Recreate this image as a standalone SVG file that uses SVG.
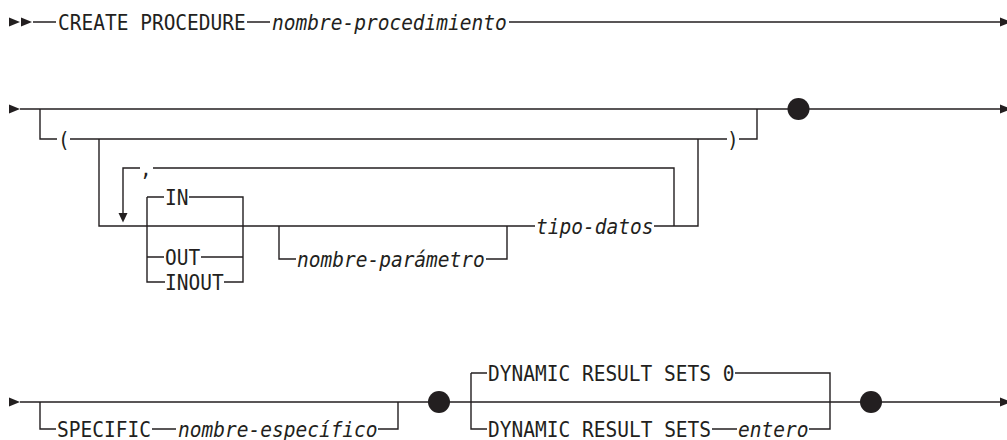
<svg xmlns="http://www.w3.org/2000/svg" width="1007" height="440" viewBox="0 0 1007 440">
<style>
text{font-family:"DejaVu Sans Mono","Liberation Mono",monospace;font-size:20.6px;fill:#231f20}
.i{font-style:italic}
.ln{fill:none;stroke:#231f20;stroke-width:1.4}
.ah{fill:#231f20}
.dot{fill:#231f20}
</style>
<defs>
<polygon id="ar" points="0,-4.5 0,4.5 11,0" class="ah"/>
</defs>
<rect width="1007" height="440" fill="#fff"/>
<g id="connectors">
<path class="ln" d="M33 22H56M247 22H270M509 22H1001"/>
<path class="ln" d="M20 109H1001M40 109V139H57M70 139H727M739 139H757V109M99 139V226H535M654 226H698V139M674 226V168H153M140 168H123V214M147 197V282H165M147 197H164M147 257H164M189 197H243V282H224M201 257H243M279 226V259H296M486 259H507V226"/>
<path class="ln" d="M20 402H1001M40 402V429H56M152 429H176M378 429H398V402M471 373V429H487M471 373H487M735 373H830V429H809M712 429H737"/>
<use href="#ar" x="9" y="22"/>
<use href="#ar" x="21" y="22"/>
<use href="#ar" x="1000" y="22"/>
<use href="#ar" x="9" y="109"/>
<use href="#ar" x="1000" y="109"/>
<use href="#ar" x="9" y="402"/>
<use href="#ar" x="1000" y="402"/>
<polygon class="ah" points="118.5,213 127.5,213 123,222.5"/>
</g>
<g id="create"><text x="58" y="29.5" textLength="187.8" lengthAdjust="spacingAndGlyphs">CREATE PROCEDURE</text></g>
<g id="nombre-procedimiento"><text class="i" x="272" y="29.5" textLength="234.8" lengthAdjust="spacingAndGlyphs">nombre-procedimiento</text></g>
<g id="lparen"><text x="58" y="146.5" textLength="11.7" lengthAdjust="spacingAndGlyphs">(</text></g>
<g id="rparen"><text x="727" y="146.5" textLength="11.7" lengthAdjust="spacingAndGlyphs">)</text></g>
<g id="comma"><text x="140" y="175.5" textLength="11.7" lengthAdjust="spacingAndGlyphs">,</text></g>
<g id="in"><text x="165" y="204.5" textLength="23.5" lengthAdjust="spacingAndGlyphs">IN</text></g>
<g id="out"><text x="165" y="264.5" textLength="35.2" lengthAdjust="spacingAndGlyphs">OUT</text></g>
<g id="inout"><text x="165" y="289.5" textLength="58.7" lengthAdjust="spacingAndGlyphs">INOUT</text></g>
<g id="nombre-parametro"><text class="i" x="297" y="266.5" textLength="187.8" lengthAdjust="spacingAndGlyphs">nombre-parámetro</text></g>
<g id="tipo-datos"><text class="i" x="536" y="233.5" textLength="117.4" lengthAdjust="spacingAndGlyphs">tipo-datos</text></g>
<g id="dot1"><circle class="dot" cx="798.5" cy="109" r="11"/></g>
<g id="specific"><text x="57" y="436.5" textLength="93.9" lengthAdjust="spacingAndGlyphs">SPECIFIC</text></g>
<g id="nombre-especifico"><text class="i" x="178" y="436.5" textLength="199.6" lengthAdjust="spacingAndGlyphs">nombre-específico</text></g>
<g id="dot2"><circle class="dot" cx="439" cy="402" r="11"/></g>
<g id="drs0"><text x="488" y="380.5" textLength="246.5" lengthAdjust="spacingAndGlyphs">DYNAMIC RESULT SETS 0</text></g>
<g id="drs"><text x="488" y="436.5" textLength="223.1" lengthAdjust="spacingAndGlyphs">DYNAMIC RESULT SETS</text></g>
<g id="entero"><text class="i" x="738" y="436.5" textLength="70.4" lengthAdjust="spacingAndGlyphs">entero</text></g>
<g id="dot3"><circle class="dot" cx="871" cy="402" r="11"/></g>
</svg>
